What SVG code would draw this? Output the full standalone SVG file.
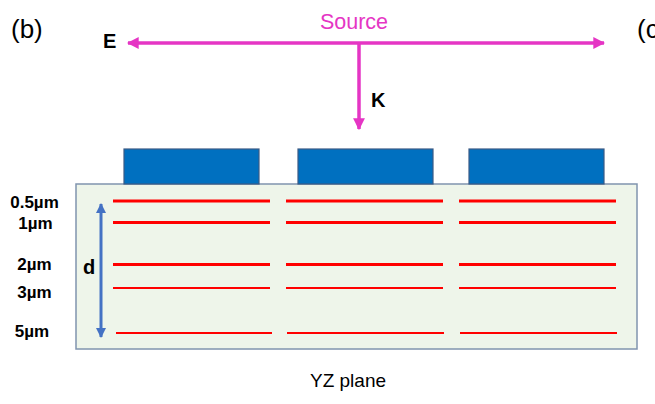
<svg xmlns="http://www.w3.org/2000/svg" width="655" height="404" viewBox="0 0 655 404">
<defs>
<style>
.lbl{font-family:"Liberation Sans",Arial,sans-serif;fill:#000}
.b{font-weight:bold}
.red{stroke:#FF0000;fill:none}
.blk{fill:#0070C0;stroke:#3A5A85;stroke-width:1.2}
.mag{stroke:#E535C4;stroke-width:3.5;fill:none}
</style>
<marker id="ma" viewBox="0 0 10 10" refX="9" refY="5" markerWidth="3.4" markerHeight="3.4" orient="auto-start-reverse" markerUnits="strokeWidth">
<path d="M0,0 L10,5 L0,10 z" fill="#E535C4"/>
</marker>
<marker id="ba" viewBox="0 0 10 10" refX="9" refY="5" markerWidth="3.4" markerHeight="3.4" orient="auto-start-reverse" markerUnits="strokeWidth">
<path d="M0,0 L10,5 L0,10 z" fill="#4472C4"/>
</marker>
</defs>
<rect width="655" height="404" fill="#fff"/>
<text class="lbl" x="11" y="38" font-size="26">(b)</text>
<text class="lbl" x="637" y="38" font-size="26">(c</text>
<g id="source">
<text class="lbl" x="354" y="29" font-size="21.5" text-anchor="middle" style="fill:#E535C4">Source</text>
</g>
<g id="E-label"><text class="lbl b" x="103" y="48" font-size="20">E</text></g>
<g id="K-label"><text class="lbl b" x="371" y="107" font-size="20">K</text></g>
<g id="substrate">
<rect x="76" y="184" width="561" height="165" fill="#EEF5EA" stroke="#8094AE" stroke-width="1.5"/>
</g>
<g id="electrode1"><rect class="blk" x="124" y="149" width="135" height="35"/></g>
<g id="electrode2"><rect class="blk" x="298" y="149" width="135" height="35"/></g>
<g id="electrode3"><rect class="blk" x="469" y="149" width="135" height="35"/></g>
<g id="layers">
<g stroke-width="3">
<path class="red" d="M113,201H270M286,201H443M459,201H616"/>
<path class="red" d="M113,222.5H270M286,222.5H443M459,222.5H616"/>
<path class="red" d="M113,264.5H270M286,264.5H443M459,264.5H616"/>
</g>
<g stroke-width="2.2">
<path class="red" d="M113,288H270M286,288H443M459,288H616"/>
<path class="red" d="M116,333H272M287,333H444M460,333H617"/>
</g>
</g>
<g id="depth-labels" class="lbl b" font-size="17" text-anchor="middle">
<text x="34.5" y="208">0.5µm</text>
<text x="35.5" y="229">1µm</text>
<text x="34.5" y="270">2µm</text>
<text x="34.5" y="298">3µm</text>
<text x="32" y="337">5µm</text>
</g>
<g id="d-label"><text class="lbl b" x="89" y="274" font-size="20" text-anchor="middle">d</text></g>
<g id="caption"><text class="lbl" x="348" y="387" font-size="19" text-anchor="middle">YZ plane</text></g>
<g id="connectors">
<path class="mag" d="M359,43H128" marker-end="url(#ma)"/>
<path class="mag" d="M359,43H604" marker-end="url(#ma)"/>
<path class="mag" d="M359,43V129" marker-end="url(#ma)"/>
<path d="M101,204V337" stroke="#4472C4" stroke-width="3" fill="none" marker-start="url(#ba)" marker-end="url(#ba)"/>
</g>
</svg>
